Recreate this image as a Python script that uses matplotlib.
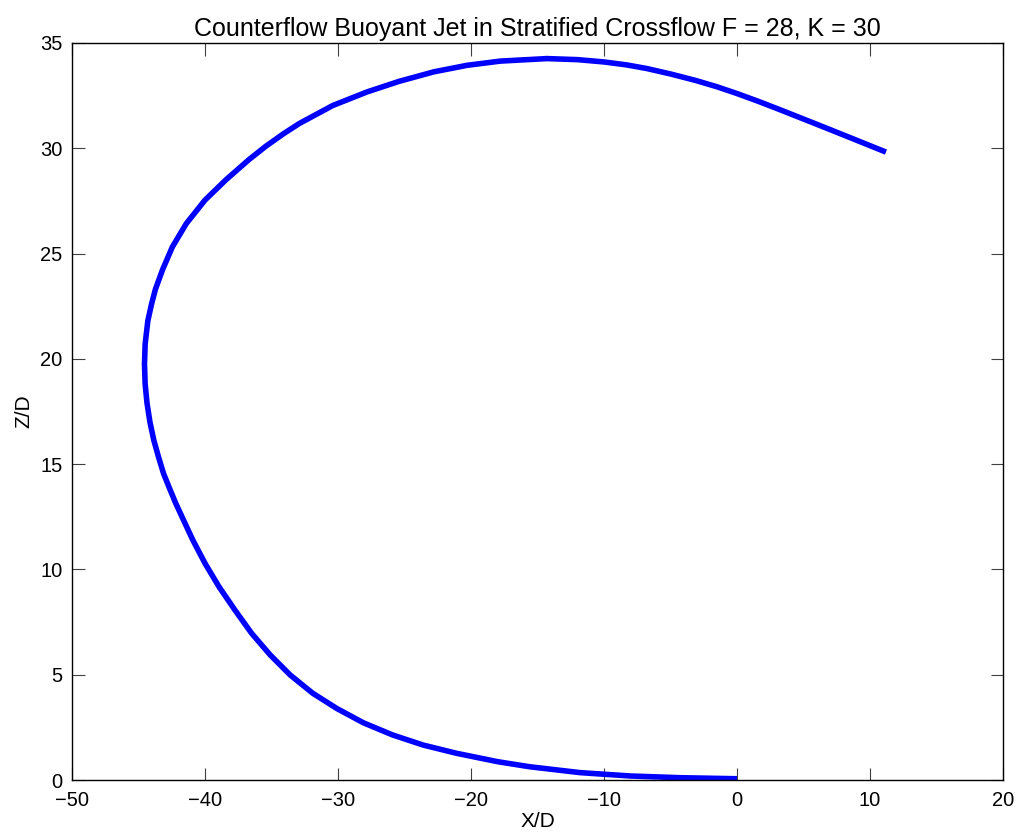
import matplotlib
matplotlib.use("Agg")
import matplotlib.pyplot as plt

# Jet centreline trajectory (X/D, Z/D), from the nozzle outward
x_d = [0.0, -4.3, -8.0, -11.8, -15.6, -18.0, -21.1, -23.6, -25.9, -28.1,
       -30.1, -31.9, -33.6, -35.1, -36.5, -37.75, -38.95, -40.0, -40.92, -41.62,
       -42.2, -42.7, -43.12, -43.5, -43.85, -44.14, -44.36, -44.5, -44.55, -44.5,
       -44.3, -44.02, -43.73, -43.2, -42.45, -41.4, -40.0, -38.45, -36.7, -35.4,
       -34.1, -32.9, -30.4, -27.8, -25.4, -22.8, -20.3, -17.8, -14.3, -12.0,
       -10.0, -8.3, -6.8, -5.0, -3.1, -1.5, 0.0, 1.6, 3.2, 5.0,
       6.95, 9.0, 11.2]
z_d = [0.06, 0.11, 0.19, 0.35, 0.63, 0.87, 1.27, 1.66, 2.14, 2.72,
       3.40, 4.12, 4.99, 5.94, 6.97, 8.07, 9.18, 10.29, 11.40, 12.35,
       13.14, 13.9, 14.56, 15.35, 16.14, 17.0, 17.9, 18.8, 19.75, 20.7,
       21.8, 22.6, 23.3, 24.22, 25.32, 26.43, 27.54, 28.49, 29.46, 30.11,
       30.69, 31.18, 32.03, 32.68, 33.18, 33.63, 33.94, 34.14, 34.26, 34.21,
       34.1, 33.96, 33.79, 33.53, 33.22, 32.92, 32.6, 32.23, 31.84, 31.39,
       30.90, 30.38, 29.82]

x_ticks = [-50, -40, -30, -20, -10, 0, 10, 20]
y_ticks = [0, 5, 10, 15, 20, 25, 30, 35]

plt.rcParams['font.family'] = ['Liberation Sans', 'DejaVu Sans']
plt.rcParams['axes.unicode_minus'] = True

fig = plt.figure(figsize=(10.21, 8.38), dpi=100)
ax = fig.add_axes([72 / 1021, 1 - 780 / 838, (1003 - 72) / 1021, (780 - 43) / 838])

ax.plot(x_d, z_d, color='#0000ff', linewidth=4.0, solid_capstyle='butt',
        solid_joinstyle='round')

ax.set_xlim(-50, 20)
ax.set_ylim(0, 35)
ax.set_xticks(x_ticks)
ax.set_yticks(y_ticks)
ax.tick_params(direction='in', length=9, width=0.8, top=True, right=True,
               labelsize=14.5, color='#404040')
ax.tick_params(axis='x', pad=8)
ax.tick_params(axis='y', pad=7)
for s in ax.spines.values():
    s.set_linewidth(1.0)
    s.set_color('black')

ax.set_title('Counterflow Buoyant Jet in Stratified Crossflow F = 28, K = 30',
             fontsize=18, pad=5)
ax.set_xlabel('X/D', fontsize=15, labelpad=1)
ax.set_ylabel('Z/D', fontsize=15, labelpad=5)

fig.savefig('out.png', dpi=100)
